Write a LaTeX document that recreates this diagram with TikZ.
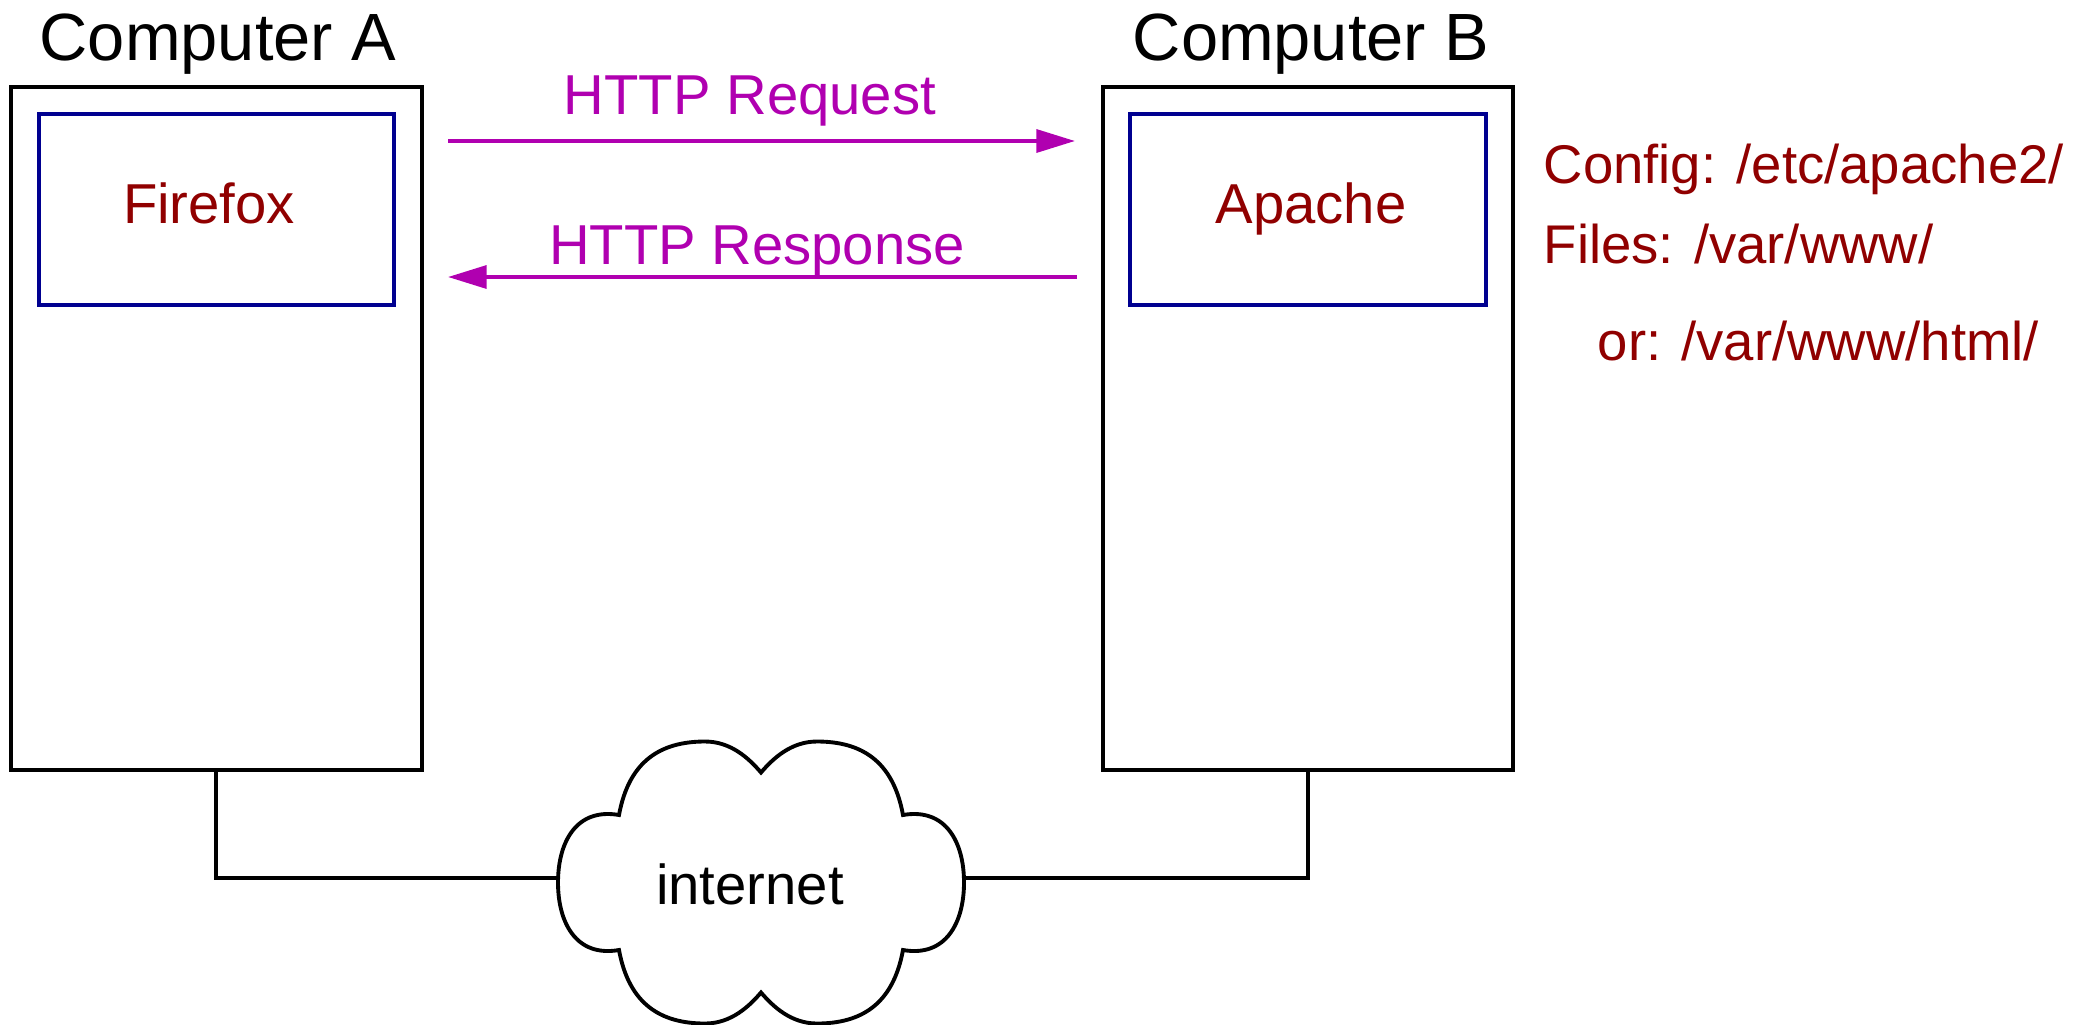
\documentclass[tikz,border=0pt]{standalone}
\usepackage{fontspec}
\setmainfont{Liberation Sans}
\usetikzlibrary{arrows.meta}
\definecolor{fxred}{RGB}{144,0,0}
\definecolor{fxblue}{RGB}{0,0,144}
\definecolor{fxmag}{RGB}{176,0,176}
\tikzset{
  compbox/.style={draw=black, line width=1pt, minimum width=4.11cm, minimum height=6.83cm, inner sep=0pt},
  appbox/.style={draw=fxblue, line width=1pt, minimum width=3.56cm, minimum height=1.91cm, inner sep=0pt},
  bigtext/.style={anchor=base, inner sep=0pt, font=\fontsize{19}{23}\selectfont},
  redtext/.style={anchor=base, inner sep=0pt, text=fxred, font=\fontsize{16}{19}\selectfont},
  sidetext/.style={anchor=base west, inner sep=0pt, text=fxred, font=\fontsize{15.5}{19}\selectfont},
  magtext/.style={anchor=base, inner sep=0pt, text=fxmag, font=\fontsize{16}{19}\selectfont},
  msg/.style={draw=fxmag, line width=1.1pt, -{Triangle[length=11pt,width=6.5pt]}},
  wire/.style={draw=black, line width=1pt},
}
\begin{document}
\begin{tikzpicture}[x=0.01cm, y=-0.01cm]
\useasboundingbox (0,0) rectangle (2092,1024);
% computers
\node[compbox] (compA) at (216.5,428.5) {};
\node[compbox, minimum width=4.10cm] (compB) at (1308,428.5) {};
\node[appbox, minimum width=3.55cm] (ffbox) at (216.5,209.5) {};
\node[appbox] (apbox) at (1308,209.5) {};
% labels
\node[bigtext] (labA) at (218,60) {Computer A};
\node[bigtext] (labB) at (1311,60) {Computer B};
\node[redtext] (ff) at (209,223) {Firefox};
\node[redtext] (ap) at (1311,223) {Apache};
\node[sidetext] (cfg) at (1543,183) {Config: /etc/apache2/};
\node[sidetext] (fls) at (1543,263) {Files: /var/www/};
\node[sidetext] (orl) at (1597,360) {or: /var/www/html/};
% messages
\coordinate (reqS) at (448,141);
\coordinate (reqE) at (1075,141);
\coordinate (resS) at (1077,277);
\coordinate (resE) at (448,277);
\draw[msg] (reqS) -- (reqE);
\draw[msg] (resS) -- (resE);
\node[magtext] (reqT) at (750,114) {HTTP Request};
\node[magtext] (resT) at (757,264) {HTTP Response};
% cloud
\begin{scope}[shift={(761,882.5)}]
\draw[line width=1.1pt, fill=white]
  (-142,-67.5) .. controls (-132,-122) and (-100,-141) .. (-56,-141)
  .. controls (-30,-141) and (-12,-124) .. (0,-110)
  .. controls (12,-124) and (30,-141) .. (56,-141)
  .. controls (100,-141) and (132,-122) .. (142,-67.5)
  .. controls (185,-75) and (203,-40) .. (203,0)
  .. controls (203,40) and (185,75) .. (142,67.5)
  .. controls (132,122) and (100,141) .. (56,141)
  .. controls (30,141) and (12,124) .. (0,110)
  .. controls (-12,124) and (-30,141) .. (-56,141)
  .. controls (-100,141) and (-132,122) .. (-142,67.5)
  .. controls (-185,75) and (-203,40) .. (-203,0)
  .. controls (-203,-40) and (-185,-75) .. cycle;
\end{scope}
\node[bigtext, font=\fontsize{16}{19}\selectfont] (inet) at (750,904) {internet};
\coordinate (cloudW) at (558,878);
\coordinate (cloudE) at (964,878);
% wires
\draw[wire] (compA.south -| 216,0) |- (cloudW);
\draw[wire] (compB.south -| 1308,0) |- (cloudE);
\end{tikzpicture}
\end{document}
